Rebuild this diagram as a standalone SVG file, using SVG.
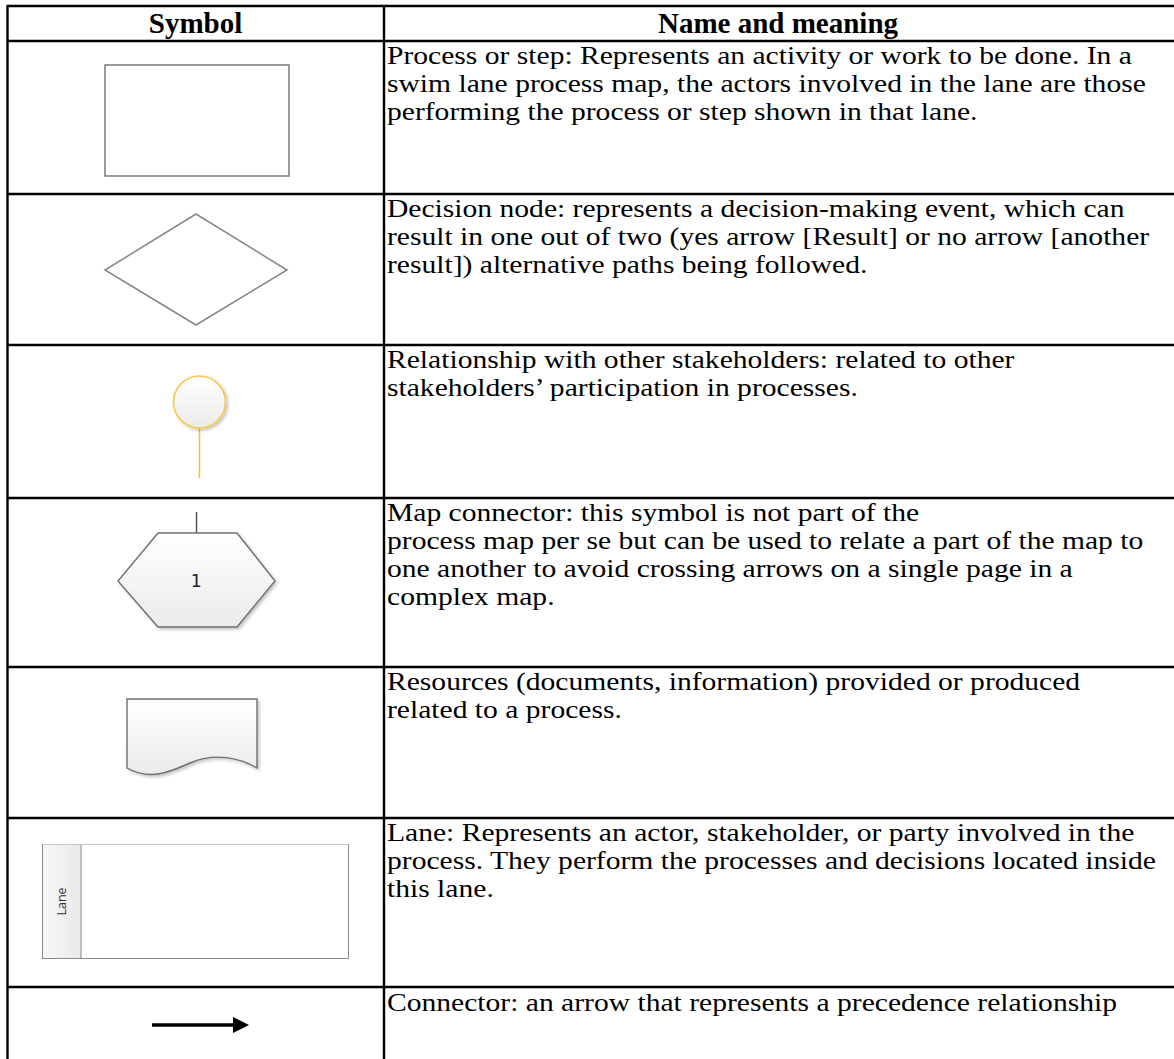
<svg xmlns="http://www.w3.org/2000/svg" width="1174" height="1059" viewBox="0 0 1174 1059">
  <defs>
    <style>
      .grid { stroke: #000; stroke-width: 2.4; fill: none; }
      .head { font-family: "Liberation Serif", "Times New Roman", serif; font-weight: bold; font-size: 29px; fill: #000; text-anchor: middle; }
      .body { font-family: "Liberation Serif", "Times New Roman", serif; font-size: 25.5px; fill: #000; }
      .plain { fill: #fff; stroke: #727272; stroke-width: 1.4; }
      .soft { fill: url(#shade); stroke: #6f6f6f; stroke-width: 1.4; filter: url(#shadow); }
    </style>
    <linearGradient id="shade" x1="0" y1="0" x2="0" y2="1">
      <stop offset="0" stop-color="#ffffff"/>
      <stop offset="1" stop-color="#ebebeb"/>
    </linearGradient>
    <linearGradient id="band" x1="0" y1="0" x2="1" y2="0">
      <stop offset="0" stop-color="#f7f7f7"/>
      <stop offset="1" stop-color="#e9e9e9"/>
    </linearGradient>
    <filter id="shadow" x="-20%" y="-20%" width="150%" height="150%">
      <feDropShadow dx="2" dy="2" stdDeviation="1.5" flood-color="#000" flood-opacity="0.22"/>
    </filter>
  </defs>

  <rect width="1174" height="1059" fill="#fff"/>

  <!-- table rules -->
  <g id="table-grid" class="grid">
    <line x1="7" y1="6" x2="1174" y2="6"/>
    <line x1="7.5" y1="5" x2="7.5" y2="1059"/>
    <line x1="384" y1="5" x2="384" y2="1059"/>
    <line x1="7" y1="41" x2="1174" y2="41"/>
    <line x1="7" y1="194" x2="1174" y2="194"/>
    <line x1="7" y1="345" x2="1174" y2="345"/>
    <line x1="7" y1="498" x2="1174" y2="498"/>
    <line x1="7" y1="667" x2="1174" y2="667"/>
    <line x1="7" y1="818" x2="1174" y2="818"/>
    <line x1="7" y1="987" x2="1174" y2="987"/>
  </g>

  <g id="header">
    <text class="head" x="195.5" y="33">Symbol</text>
    <text class="head" x="778" y="33">Name and meaning</text>
  </g>

  <!-- process / step -->
  <g id="row-process">
    <rect class="plain" x="105" y="65" width="184" height="111"/>
    <g transform="translate(387,0) scale(1.16,1)">
      <text class="body" x="0" y="64">Process or step: Represents an activity or work to be done. In a</text>
      <text class="body" x="0" y="92">swim lane process map, the actors involved in the lane are those</text>
      <text class="body" x="0" y="120">performing the process or step shown in that lane.</text>
    </g>
  </g>

  <!-- decision -->
  <g id="row-decision">
    <polygon points="196,214 287,270 196,325 105,270" fill="#fff" stroke="#868686" stroke-width="1.5"/>
    <g transform="translate(387,0) scale(1.16,1)">
      <text class="body" x="0" y="217">Decision node: represents a decision-making event, which can</text>
      <text class="body" x="0" y="245">result in one out of two (yes arrow [Result] or no arrow [another</text>
      <text class="body" x="0" y="273">result]) alternative paths being followed.</text>
    </g>
  </g>

  <!-- stakeholder relationship -->
  <g id="row-stakeholder">
    <line x1="199.5" y1="428" x2="199.5" y2="478" stroke="#f6c23e" stroke-width="1.6"/>
    <circle cx="199.5" cy="402" r="26" fill="url(#shade)" stroke="#f8c84a" stroke-width="1.6" filter="url(#shadow)"/>
    <g transform="translate(387,0) scale(1.16,1)">
      <text class="body" x="0" y="368">Relationship with other stakeholders: related to other</text>
      <text class="body" x="0" y="396">stakeholders’ participation in processes.</text>
    </g>
  </g>

  <!-- map connector -->
  <g id="row-map-connector">
    <line x1="196.5" y1="512" x2="196.5" y2="533" stroke="#4a4a4a" stroke-width="1.4"/>
    <polygon class="soft" points="158,533 237,533 275,581 237,627 158,627 118,581"/>
    <text x="196" y="587" text-anchor="middle" font-family="'DejaVu Sans Mono', 'Liberation Mono', monospace" font-size="18" fill="#222">1</text>
    <g transform="translate(387,0) scale(1.16,1)">
      <text class="body" x="0" y="521">Map connector: this symbol is not part of the</text>
      <text class="body" x="0" y="549">process map per se but can be used to relate a part of the map to</text>
      <text class="body" x="0" y="577">one another to avoid crossing arrows on a single page in a</text>
      <text class="body" x="0" y="605">complex map.</text>
    </g>
  </g>

  <!-- resources / document -->
  <g id="row-resources">
    <path class="soft" d="M127,699 H257 V768 C240,758 215,752 190,763 C170,772 150,781 127,768 Z"/>
    <g transform="translate(387,0) scale(1.16,1)">
      <text class="body" x="0" y="690">Resources (documents, information) provided or produced</text>
      <text class="body" x="0" y="718">related to a process.</text>
    </g>
  </g>

  <!-- lane -->
  <g id="row-lane">
    <rect x="42.5" y="844.5" width="306" height="114" fill="#fff" stroke="#8a8a8a" stroke-width="1"/>
    <rect x="42.5" y="844.5" width="38.5" height="114" fill="url(#band)" stroke="#8a8a8a" stroke-width="1"/>
    <line x1="42.5" y1="844.5" x2="348.5" y2="844.5" stroke="#c4c4c4" stroke-width="1.2"/>
    <text transform="translate(65.5,901.5) rotate(-90)" text-anchor="middle" font-family="'Open Sans', 'Noto Sans', sans-serif" font-size="12.5" fill="#333">Lane</text>
    <g transform="translate(387,0) scale(1.16,1)">
      <text class="body" x="0" y="841">Lane: Represents an actor, stakeholder, or party involved in the</text>
      <text class="body" x="0" y="869">process. They perform the processes and decisions located inside</text>
      <text class="body" x="0" y="897">this lane.</text>
    </g>
  </g>

  <!-- connector arrow -->
  <g id="row-connector">
    <line x1="152" y1="1025" x2="236" y2="1025" stroke="#000" stroke-width="3.5"/>
    <polygon points="233,1017 249,1025 233,1033" fill="#000"/>
    <g transform="translate(387,0) scale(1.16,1)">
      <text class="body" x="0" y="1011">Connector: an arrow that represents a precedence relationship</text>
    </g>
  </g>

  <g id="connectors"/>
</svg>
